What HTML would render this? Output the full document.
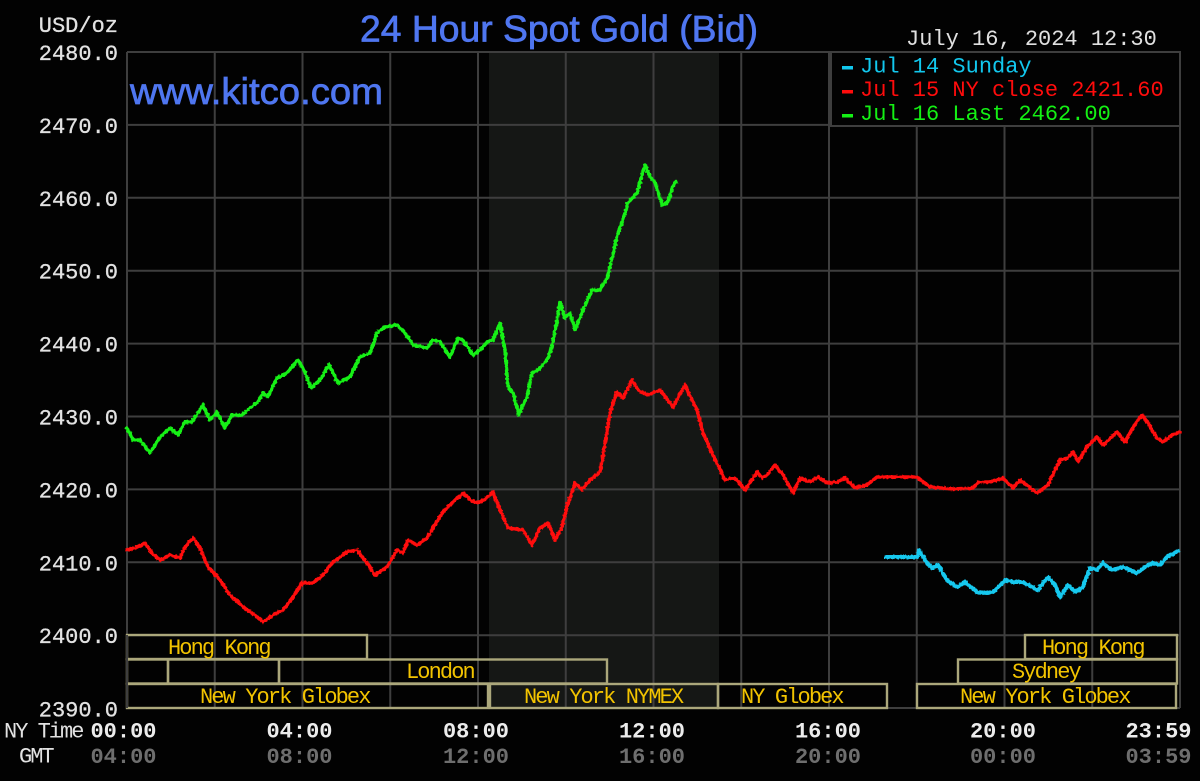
<!DOCTYPE html>
<html>
<head>
<meta charset="utf-8">
<style>
html,body{margin:0;padding:0;background:#000;}
svg{display:block;}
.mono{font-family:"Liberation Mono",monospace;}
.sans{font-family:"Liberation Sans",sans-serif;}
</style>
</head>
<body>
<svg width="1200" height="781" viewBox="0 0 1200 781" xmlns="http://www.w3.org/2000/svg">
  <defs>
    <filter id="jag" x="-5%" y="-5%" width="110%" height="110%">
      <feTurbulence type="fractalNoise" baseFrequency="0.45" numOctaves="1" seed="3" result="n"/>
      <feDisplacementMap in="SourceGraphic" in2="n" scale="3.5" xChannelSelector="R" yChannelSelector="G"/>
    </filter>
  </defs>
  <rect x="0" y="0" width="1200" height="781" fill="#020202"/>
  <!-- shaded region -->
  <rect x="489" y="52" width="230" height="656" fill="#151715"/>

  <!-- grid -->
  <g stroke="#3e3e3e" stroke-width="2" fill="none">
    <line x1="127" y1="52" x2="1180" y2="52"/>
    <line x1="127" y1="124.9" x2="1180" y2="124.9"/>
    <line x1="127" y1="197.8" x2="1180" y2="197.8"/>
    <line x1="127" y1="270.7" x2="1180" y2="270.7"/>
    <line x1="127" y1="343.6" x2="1180" y2="343.6"/>
    <line x1="127" y1="416.5" x2="1180" y2="416.5"/>
    <line x1="127" y1="489.4" x2="1180" y2="489.4"/>
    <line x1="127" y1="562.3" x2="1180" y2="562.3"/>
    <line x1="127" y1="635.2" x2="1180" y2="635.2"/>
    <line x1="127" y1="708" x2="1180" y2="708"/>
    <line x1="127" y1="52" x2="127" y2="708"/>
    <line x1="214.75" y1="52" x2="214.75" y2="708"/>
    <line x1="302.5" y1="52" x2="302.5" y2="708"/>
    <line x1="390.25" y1="52" x2="390.25" y2="708"/>
    <line x1="478" y1="52" x2="478" y2="708"/>
    <line x1="565.75" y1="52" x2="565.75" y2="708"/>
    <line x1="653.5" y1="52" x2="653.5" y2="708"/>
    <line x1="741.25" y1="52" x2="741.25" y2="708"/>
    <line x1="829" y1="52" x2="829" y2="708"/>
    <line x1="916.75" y1="52" x2="916.75" y2="708"/>
    <line x1="1004.5" y1="52" x2="1004.5" y2="708"/>
    <line x1="1092.25" y1="52" x2="1092.25" y2="708"/>
    <line x1="1180" y1="52" x2="1180" y2="708"/>
  </g>

  <!-- session boxes -->
  <g stroke="#aba77b" stroke-width="2.4" fill="none">
    <rect x="127" y="635" width="240" height="24"/>
    <rect x="1025" y="635" width="152" height="24"/>
    <rect x="127" y="659.5" width="41" height="24"/>
    <rect x="168" y="659.5" width="111" height="24"/>
    <rect x="279" y="659.5" width="328" height="24"/>
    <rect x="958" y="659.5" width="219" height="24"/>
    <rect x="127" y="684" width="361" height="24"/>
    <rect x="490" y="684" width="228" height="24"/>
    <rect x="718" y="684" width="169" height="24"/>
    <rect x="917" y="684" width="259" height="24"/>
  </g>
  <g stroke="#3e3e3e" stroke-width="2">
    <line x1="127" y1="635" x2="127" y2="708"/>
    <line x1="1180" y1="635" x2="1180" y2="708"/>
  </g>

  <!-- session labels -->
  <g class="mono" font-size="22" fill="#f2c300" letter-spacing="-1.9">
    <text x="168" y="654">Hong Kong</text>
    <text x="406" y="678">London</text>
    <text x="200" y="703">New York Globex</text>
    <text x="524" y="703">New York NYMEX</text>
    <text x="741" y="703">NY Globex</text>
    <text x="1042" y="654">Hong Kong</text>
    <text x="1012" y="678">Sydney</text>
    <text x="960" y="703">New York Globex</text>
  </g>

  <g filter="url(#jag)">
  <!-- red series -->
  <polyline fill="none" stroke="#ff0c0c" stroke-width="3.5" stroke-linejoin="round" stroke-linecap="round"
    points="127,550 135,548 145,543 152,553 160,560 170,555 180,558 185,547 193,538 200,548 208,567 220,580 230,595 238,602 247,610 255,615 263,622 273,615 283,610 293,597 302,583 313,583 323,575 333,562 347,552 357,550 367,563 375,575 387,567 397,550 403,553 408,540 417,545 427,538 433,528 442,513 453,502 463,493 470,500 478,503 487,498 493,492 500,510 508,528 523,530 532,545 540,528 548,523 555,540 562,527 568,503 575,483 582,490 590,480 600,472 605,443 610,413 617,392 623,398 632,380 638,390 647,395 660,390 673,407 685,385 697,410 703,433 713,455 725,480 735,478 745,490 757,472 762,478 767,475 775,465 783,475 793,493 800,478 810,482 818,477 827,483 837,482 845,478 855,488 867,485 877,477 917,477 930,487 953,489 973,488 978,482 990,482 1003,478 1013,488 1020,480 1037,493 1048,485 1060,460 1068,458 1073,452 1078,462 1087,447 1097,437 1103,445 1117,432 1125,442 1133,427 1142,415 1148,423 1157,438 1163,442 1172,435 1180,432"/>

  <!-- cyan series -->
  <polyline fill="none" stroke="#12c8ee" stroke-width="4" stroke-linejoin="round"
    points="884,557 917,557 919,550 925,560 932,568 938,565 947,580 957,587 965,582 977,592 987,593 993,592 1005,580 1013,582 1022,582 1032,587 1038,590 1048,577 1055,585 1060,597 1068,585 1075,592 1083,587 1090,568 1097,570 1103,563 1112,570 1123,567 1137,573 1145,567 1153,563 1160,565 1167,557 1180,550"/>

  <!-- green series -->
  <polyline fill="none" stroke="#14f014" stroke-width="3.5" stroke-linejoin="round" stroke-linecap="round"
    points="127,428 133,440 140,440 150,453 160,437 170,428 178,435 185,422 192,422 203,405 210,420 217,412 225,428 232,415 242,415 250,408 258,402 263,393 268,397 277,378 287,373 298,360 305,372 311,388 320,380 329,365 338,383 350,377 360,357 370,353 377,333 385,327 397,325 405,333 413,345 427,348 433,340 440,342 450,357 458,338 463,340 473,355 480,350 487,342 493,340 500,323 505,350 508,387 513,393 519,415 522,407 527,397 532,373 538,370 547,360 552,347 557,320 560,302 565,318 570,313 575,330 583,310 592,290 600,290 607,278 612,258 618,233 623,220 628,203 637,193 642,175 645,165 650,177 655,182 662,205 668,202 672,188 676,182"/>
  </g>

  <!-- legend -->
  <rect x="831" y="52" width="349" height="74" fill="#020202" stroke="#3e3e3e" stroke-width="2"/>
  <rect x="842" y="66" width="11" height="3.5" fill="#12c8ee"/>
  <rect x="842" y="90" width="11" height="3.5" fill="#ff0c0c"/>
  <rect x="842" y="114" width="11" height="3.5" fill="#14f014"/>
  <g class="mono" font-size="22">
    <text x="860" y="72.5" fill="#12c8ee">Jul 14 Sunday</text>
    <text x="860" y="96" fill="#ff0c0c">Jul 15 NY close 2421.60</text>
    <text x="860" y="120" fill="#14f014">Jul 16 Last 2462.00</text>
  </g>

  <!-- titles -->
  <text class="sans" x="360" y="41.5" font-size="37" fill="#4f76f0" stroke="#4f76f0" stroke-width="0.7" textLength="398" lengthAdjust="spacingAndGlyphs">24 Hour Spot Gold (Bid)</text>
  <text class="sans" x="130" y="104" font-size="37" fill="#4f76f0" stroke="#4f76f0" stroke-width="0.7" textLength="253" lengthAdjust="spacingAndGlyphs">www.kitco.com</text>
  <text class="mono" x="906" y="45" font-size="22" fill="#e0e0e0">July 16, 2024 12:30</text>

  <!-- y axis labels -->
  <g class="mono" font-size="22" fill="#e2e2e2" stroke="#e2e2e2" stroke-width="0.3" text-anchor="end">
    <text x="118" y="32">USD/oz</text>
    <text x="118" y="60">2480.0</text>
    <text x="118" y="132.9">2470.0</text>
    <text x="118" y="205.8">2460.0</text>
    <text x="118" y="278.7">2450.0</text>
    <text x="118" y="351.6">2440.0</text>
    <text x="118" y="424.5">2430.0</text>
    <text x="118" y="497.4">2420.0</text>
    <text x="118" y="570.3">2410.0</text>
    <text x="118" y="643.2">2400.0</text>
    <text x="118" y="716.5">2390.0</text>
  </g>

  <!-- x axis labels -->
  <g class="mono" font-size="22" letter-spacing="-2">
    <text x="4" y="737.5" fill="#e2e2e2">NY Time</text>
    <text x="19" y="762.5" fill="#e2e2e2">GMT</text>
  </g>
  <g class="mono" font-size="22" font-weight="bold" fill="#ececec" text-anchor="middle">
    <text x="123.5" y="737.5">00:00</text>
    <text x="299.5" y="737.5">04:00</text>
    <text x="476" y="737.5">08:00</text>
    <text x="652" y="737.5">12:00</text>
    <text x="828" y="737.5">16:00</text>
    <text x="1003" y="737.5">20:00</text>
    <text x="1158.5" y="737.5">23:59</text>
  </g>
  <g class="mono" font-size="22" font-weight="bold" fill="#6e6e6e" text-anchor="middle">
    <text x="123.5" y="763">04:00</text>
    <text x="299.5" y="763">08:00</text>
    <text x="476" y="763">12:00</text>
    <text x="652" y="763">16:00</text>
    <text x="828" y="763">20:00</text>
    <text x="1003" y="763">00:00</text>
    <text x="1158.5" y="763">03:59</text>
  </g>
</svg>
</body>
</html>
